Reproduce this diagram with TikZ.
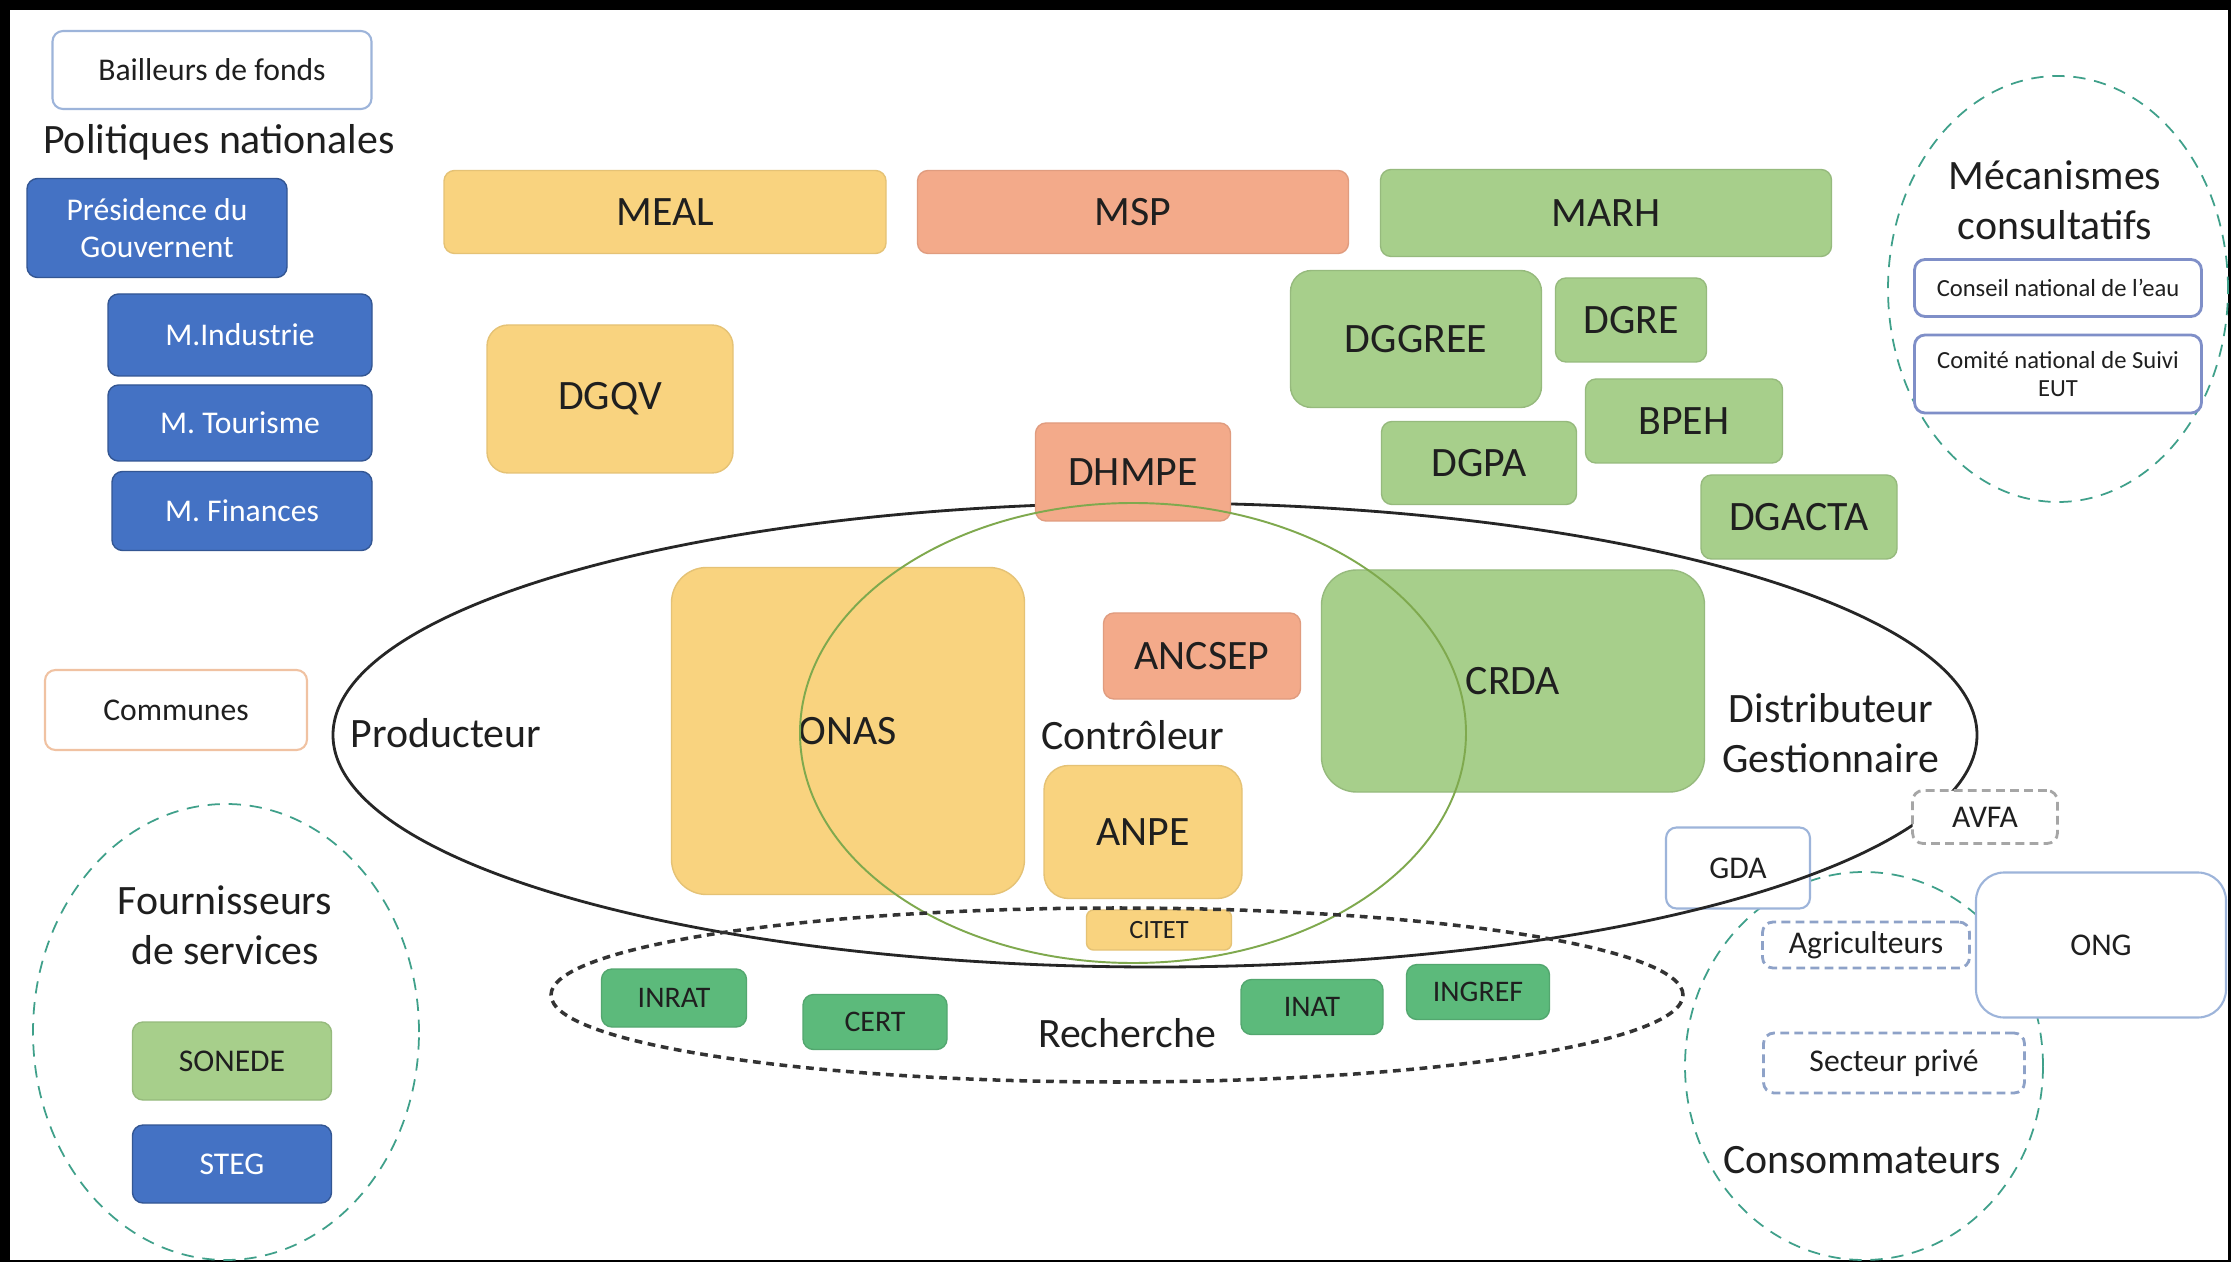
\documentclass[tikz,border=0pt]{standalone}
\usepackage{fontspec}
\setmainfont{Carlito}
\usepackage{xcolor}
\definecolor{acBlue}{HTML}{4472C4}
\definecolor{acGold}{HTML}{F9D37F}
\definecolor{acSalmon}{HTML}{F3AA8A}
\definecolor{acGreen}{HTML}{A7CF8B}
\definecolor{acLab}{HTML}{5CBA7B}
\definecolor{acTeal}{HTML}{3FA08A}
\definecolor{acOlive}{HTML}{7FA94E}
\definecolor{acSteel}{HTML}{9DB4DA}
\definecolor{acLav}{HTML}{7F8FC8}
\definecolor{acTan}{HTML}{F0C2A2}
\definecolor{acGray}{HTML}{A6A6A6}
\definecolor{acDash}{HTML}{8EA2C8}

\begin{document}
\begin{tikzpicture}[
  boite/.style={rounded corners=3pt, inner sep=0pt, align=center, text=black!88, line width=0.4pt, font=\fontsize{11.9}{14}\selectfont},
  petit/.style={font=\fontsize{9}{10.5}\selectfont},
  bleu/.style={boite, petit, fill=acBlue, draw=acBlue!75!black, text=white},
  jaune/.style={boite, fill=acGold, draw=acGold!92!black},
  saumon/.style={boite, fill=acSalmon, draw=acSalmon!92!black},
  vert/.style={boite, fill=acGreen, draw=acGreen!90!black},
  labo/.style={boite, fill=acLab, draw=acLab!90!black, font=\fontsize{8.5}{10}\selectfont},
  cadre/.style={boite, petit, fill=white, draw=acSteel, line width=0.6pt},
  lavande/.style={boite, fill=white, draw=acLav, line width=0.8pt, font=\fontsize{7}{8}\selectfont},
  pointille/.style={boite, petit, fill=white, draw=acDash, line width=0.8pt, dash pattern=on 2.5pt off 1.5pt},
  titre/.style={align=center, inner sep=0pt, text=black!88, font=\fontsize{11.9}{14.2}\selectfont},
  zone/.style={draw=acTeal, line width=0.5pt, dash pattern=on 3.5pt off 2.5pt},
  contour/.style={draw=black!85, line width=0.8pt},
  controle/.style={draw=acOlive, line width=0.55pt},
  recherche/.style={draw=black!80, line width=1pt, dash pattern=on 2.2pt off 1.6pt}]
% fond
\fill[black] (0,0) rectangle (22.31,-12.62);
\fill[white] (0.10,-0.10) rectangle (22.28,-12.60);

% ── zones en pointillé ──
\draw[zone] (20.58,-2.89) ellipse (1.70 and 2.13);
\draw[zone] (2.26,-10.32) ellipse (1.93 and 2.28);
\draw[zone] (18.64,-10.66) ellipse (1.79 and 1.94);

% ── (a) politiques nationales ──
\node[cadre, minimum width=3.19cm, minimum height=0.78cm] (bail) at (2.12,-0.70) {Bailleurs de fonds};
\node[titre] (polit) at (2.19,-1.42) {Politiques nationales};
\node[bleu, minimum width=2.60cm, minimum height=0.99cm] (pres) at (1.57,-2.28) {Présidence du\\Gouvernent};
\node[bleu, minimum width=2.64cm, minimum height=0.82cm] (mind) at (2.40,-3.35) {M.Industrie};
\node[bleu, minimum width=2.64cm, minimum height=0.76cm] (mtour) at (2.40,-4.23) {M. Tourisme};
\node[bleu, minimum width=2.60cm, minimum height=0.79cm] (mfin) at (2.42,-5.11) {M. Finances};
\node[cadre, draw=acTan, minimum width=2.62cm, minimum height=0.80cm] (communes) at (1.76,-7.10) {Communes};

% ── (b) ministères et directions ──
\node[jaune, minimum width=4.42cm, minimum height=0.83cm] (meal) at (6.65,-2.12) {MEAL};
\node[saumon, minimum width=4.31cm, minimum height=0.83cm] (msp) at (11.33,-2.12) {MSP};
\node[vert, minimum width=4.51cm, minimum height=0.87cm] (marh) at (16.06,-2.13) {MARH};
\node[jaune, rounded corners=6pt, minimum width=2.46cm, minimum height=1.48cm] (dgqv) at (6.10,-3.99) {DGQV};
\node[vert, rounded corners=6pt, minimum width=2.51cm, minimum height=1.37cm] (dggree) at (14.16,-3.39) {DGGREE};
\node[vert, minimum width=1.51cm, minimum height=0.84cm] (dgre) at (16.31,-3.20) {DGRE};
\node[vert, minimum width=1.97cm, minimum height=0.84cm] (bpeh) at (16.84,-4.21) {BPEH};
\node[vert, minimum width=1.95cm, minimum height=0.83cm] (dgpa) at (14.79,-4.63) {DGPA};
\node[vert, minimum width=1.96cm, minimum height=0.84cm] (dgacta) at (17.99,-5.17) {DGACTA};

% ── (c) mécanismes consultatifs ──
\node[titre] (meca) at (20.55,-2.00) {Mécanismes\\consultatifs};
\node[lavande, minimum width=2.87cm, minimum height=0.57cm] (conseil) at (20.58,-2.88) {Conseil national de l’eau};
\node[lavande, minimum width=2.87cm, minimum height=0.78cm] (comite) at (20.58,-3.74) {Comité national de Suivi\\EUT};

% ── (d) fournisseurs de services ──
\node[titre] (fourn) at (2.25,-9.25) {Fournisseurs\\de services};
\node[vert, petit, minimum width=1.99cm, minimum height=0.78cm] (sonede) at (2.32,-10.61) {SONEDE};
\node[bleu, minimum width=1.99cm, minimum height=0.78cm] (steg) at (2.32,-11.64) {STEG};

% ── (e) producteur / contrôleur / distributeur ──
\node[cadre, minimum width=1.44cm, minimum height=0.81cm] (gda) at (17.38,-8.68) {GDA};
\node[jaune, rounded corners=10pt, minimum width=3.53cm, minimum height=3.27cm] (onas) at (8.48,-7.31) {ONAS};
\node[vert, rounded corners=10pt, minimum width=3.83cm, minimum height=2.22cm] (crda) at (15.13,-6.81) {CRDA};
\node[saumon, minimum width=1.97cm, minimum height=0.86cm] (ancsep) at (12.02,-6.56) {ANCSEP};
\node[jaune, rounded corners=7pt, minimum width=1.98cm, minimum height=1.33cm] (anpe) at (11.43,-8.32) {ANPE};
\node[jaune, rounded corners=2pt, minimum width=1.45cm, minimum height=0.40cm, font=\fontsize{7.5}{9}\selectfont] (citet) at (11.59,-9.30) {CITET};
\draw[contour] (11.55,-7.35) ellipse (8.22 and 2.32);
\node[saumon, minimum width=1.95cm, minimum height=0.98cm] (dhmpe) at (11.33,-4.72) {DHMPE};
\draw[controle] (11.33,-7.33) ellipse (3.33 and 2.30);
\node[titre] (prod) at (4.46,-7.33) {Producteur};
\node[titre] (ctrl) at (11.33,-7.35) {Contrôleur};
\node[titre] (distr) at (18.31,-7.33) {Distributeur\\Gestionnaire};

% ── (f) recherche ──
\draw[recherche] (11.17,-9.95) ellipse (5.66 and 0.87);
\node[labo, minimum width=1.45cm, minimum height=0.58cm] (inrat) at (6.74,-9.98) {INRAT};
\node[labo, minimum width=1.44cm, minimum height=0.55cm] (cert) at (8.75,-10.22) {CERT};
\node[labo, minimum width=1.42cm, minimum height=0.55cm] (inat) at (13.12,-10.07) {INAT};
\node[labo, minimum width=1.43cm, minimum height=0.55cm] (ingref) at (14.78,-9.92) {INGREF};
\node[titre] (rech) at (11.27,-10.33) {Recherche};

% ── (g) consommateurs ──
\node[pointille, draw=acGray, minimum width=1.45cm, minimum height=0.53cm] (avfa) at (19.85,-8.17) {AVFA};
\node[pointille, minimum width=2.07cm, minimum height=0.46cm] (agri) at (18.66,-9.45) {Agriculteurs};
\node[cadre, rounded corners=8pt, minimum width=2.50cm, minimum height=1.45cm] (ong) at (21.01,-9.45) {ONG};
\node[pointille, minimum width=2.61cm, minimum height=0.60cm] (secteur) at (18.94,-10.63) {Secteur privé};
\node[titre] (conso) at (18.62,-11.60) {Consommateurs};
\end{tikzpicture}
\end{document}
